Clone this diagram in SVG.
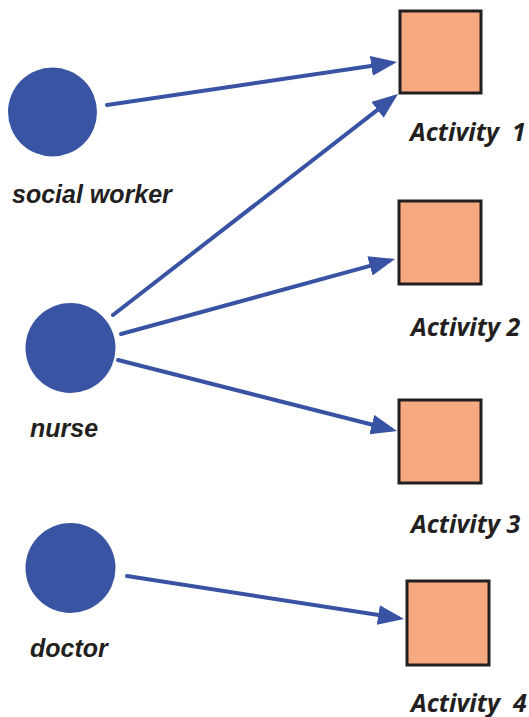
<svg xmlns="http://www.w3.org/2000/svg" width="529" height="717" viewBox="0 0 529 717">
  <style>
    .actor { fill: #3a54a4; }
    .activity { fill: #f7a980; stroke: #231f20; stroke-width: 3; }
    .role { font-family: "Liberation Sans", Arial, sans-serif; font-weight: bold; font-style: italic; font-size: 25px; fill: #231f20; }
    .act { font-family: "Open Sans", "Liberation Sans", sans-serif; font-weight: bold; font-style: italic; font-size: 25px; fill: #231f20; white-space: pre; }
    .link { stroke: #3953a4; stroke-width: 4; fill: none; stroke-linecap: round; marker-end: url(#head); }
  </style>
  <defs>
    <marker id="head" markerUnits="userSpaceOnUse" markerWidth="26" markerHeight="20" refX="20" refY="10" orient="auto">
      <path d="M0,0 L26,10 L0,20 z" fill="#3953a4"/>
    </marker>
  </defs>

  <rect width="529" height="717" fill="#ffffff"/>

  <!-- people -->
  <g id="social-worker">
    <circle class="actor" cx="52.5" cy="112" r="44.5"/>
    <text class="role" x="12" y="203">social worker</text>
  </g>
  <g id="nurse">
    <circle class="actor" cx="70.5" cy="348" r="45"/>
    <text class="role" x="30" y="437">nurse</text>
  </g>
  <g id="doctor">
    <circle class="actor" cx="70.5" cy="568" r="45"/>
    <text class="role" x="30" y="657">doctor</text>
  </g>

  <!-- activities -->
  <g id="activity-1">
    <rect class="activity" x="400" y="11" width="81" height="82"/>
    <text class="act" x="410" y="141">Activity  1</text>
  </g>
  <g id="activity-2">
    <rect class="activity" x="399" y="201" width="82" height="83"/>
    <text class="act" x="411" y="336">Activity 2</text>
  </g>
  <g id="activity-3">
    <rect class="activity" x="399" y="400" width="82" height="83"/>
    <text class="act" x="411" y="533">Activity 3</text>
  </g>
  <g id="activity-4">
    <rect class="activity" x="407" y="581" width="82" height="84"/>
    <text class="act" x="411" y="712">Activity  4</text>
  </g>

  <!-- connectors -->
  <g id="connectors">
    <line class="link" x1="107" y1="105" x2="391.1" y2="62.9"/>
    <line class="link" x1="113" y1="315" x2="393.3" y2="97.7"/>
    <line class="link" x1="121" y1="334" x2="389.2" y2="260.6"/>
    <line class="link" x1="118" y1="360" x2="391.2" y2="429.5"/>
    <line class="link" x1="127" y1="576" x2="398.1" y2="618.1"/>
  </g>
</svg>
